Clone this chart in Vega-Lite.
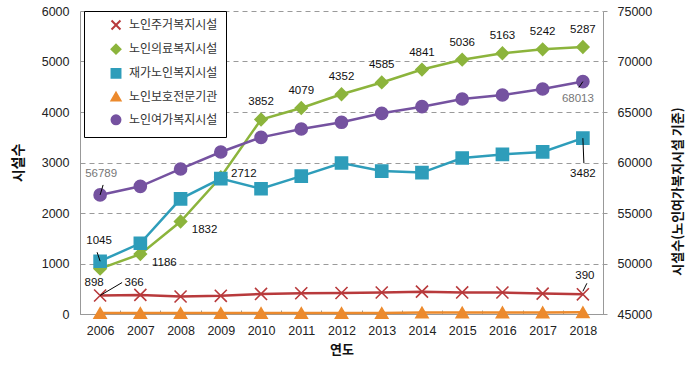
{
  "$schema": "https://vega.github.io/schema/vega-lite/v6.json",
  "width": 523,
  "height": 303,
  "padding": {"left": 11, "top": 5, "right": 5, "bottom": 5},
  "background": "white",
  "config": {
    "view": {"stroke": null},
    "font": "Liberation Sans",
    "axis": {
      "labelFont": "Liberation Sans",
      "labelFontSize": 12.5,
      "labelColor": "#222",
      "titleFont": "Noto Sans CJK KR",
      "titleFontWeight": "bold",
      "titleColor": "#111",
      "domainColor": "#999",
      "tickColor": "#999"
    }
  },
  "data": {
    "values": [
      {"year": "2006", "series": "노인주거복지시설", "value": 366},
      {"year": "2007", "series": "노인주거복지시설", "value": 378},
      {"year": "2008", "series": "노인주거복지시설", "value": 347},
      {"year": "2009", "series": "노인주거복지시설", "value": 360},
      {"year": "2010", "series": "노인주거복지시설", "value": 397},
      {"year": "2011", "series": "노인주거복지시설", "value": 411},
      {"year": "2012", "series": "노인주거복지시설", "value": 416},
      {"year": "2013", "series": "노인주거복지시설", "value": 425},
      {"year": "2014", "series": "노인주거복지시설", "value": 443},
      {"year": "2015", "series": "노인주거복지시설", "value": 427},
      {"year": "2016", "series": "노인주거복지시설", "value": 425},
      {"year": "2017", "series": "노인주거복지시설", "value": 404},
      {"year": "2018", "series": "노인주거복지시설", "value": 390},
      {"year": "2006", "series": "노인의료복지시설", "value": 898},
      {"year": "2007", "series": "노인의료복지시설", "value": 1186},
      {"year": "2008", "series": "노인의료복지시설", "value": 1832},
      {"year": "2009", "series": "노인의료복지시설", "value": 2712},
      {"year": "2010", "series": "노인의료복지시설", "value": 3852},
      {"year": "2011", "series": "노인의료복지시설", "value": 4079},
      {"year": "2012", "series": "노인의료복지시설", "value": 4352},
      {"year": "2013", "series": "노인의료복지시설", "value": 4585},
      {"year": "2014", "series": "노인의료복지시설", "value": 4841},
      {"year": "2015", "series": "노인의료복지시설", "value": 5036},
      {"year": "2016", "series": "노인의료복지시설", "value": 5163},
      {"year": "2017", "series": "노인의료복지시설", "value": 5242},
      {"year": "2018", "series": "노인의료복지시설", "value": 5287},
      {"year": "2006", "series": "재가노인복지시설", "value": 1045},
      {"year": "2007", "series": "재가노인복지시설", "value": 1400},
      {"year": "2008", "series": "재가노인복지시설", "value": 2280},
      {"year": "2009", "series": "재가노인복지시설", "value": 2680},
      {"year": "2010", "series": "재가노인복지시설", "value": 2480},
      {"year": "2011", "series": "재가노인복지시설", "value": 2730},
      {"year": "2012", "series": "재가노인복지시설", "value": 2990},
      {"year": "2013", "series": "재가노인복지시설", "value": 2830},
      {"year": "2014", "series": "재가노인복지시설", "value": 2800},
      {"year": "2015", "series": "재가노인복지시설", "value": 3090},
      {"year": "2016", "series": "재가노인복지시설", "value": 3160},
      {"year": "2017", "series": "재가노인복지시설", "value": 3210},
      {"year": "2018", "series": "재가노인복지시설", "value": 3482},
      {"year": "2006", "series": "노인보호전문기관", "value": 18},
      {"year": "2007", "series": "노인보호전문기관", "value": 19},
      {"year": "2008", "series": "노인보호전문기관", "value": 19},
      {"year": "2009", "series": "노인보호전문기관", "value": 19},
      {"year": "2010", "series": "노인보호전문기관", "value": 19},
      {"year": "2011", "series": "노인보호전문기관", "value": 19},
      {"year": "2012", "series": "노인보호전문기관", "value": 20},
      {"year": "2013", "series": "노인보호전문기관", "value": 20},
      {"year": "2014", "series": "노인보호전문기관", "value": 29},
      {"year": "2015", "series": "노인보호전문기관", "value": 29},
      {"year": "2016", "series": "노인보호전문기관", "value": 31},
      {"year": "2017", "series": "노인보호전문기관", "value": 32},
      {"year": "2018", "series": "노인보호전문기관", "value": 33},
      {"year": "2006", "series": "노인여가복지시설", "value": 56789},
      {"year": "2007", "series": "노인여가복지시설", "value": 57640},
      {"year": "2008", "series": "노인여가복지시설", "value": 59360},
      {"year": "2009", "series": "노인여가복지시설", "value": 61040},
      {"year": "2010", "series": "노인여가복지시설", "value": 62490},
      {"year": "2011", "series": "노인여가복지시설", "value": 63320},
      {"year": "2012", "series": "노인여가복지시설", "value": 63980},
      {"year": "2013", "series": "노인여가복지시설", "value": 64870},
      {"year": "2014", "series": "노인여가복지시설", "value": 65530},
      {"year": "2015", "series": "노인여가복지시설", "value": 66290},
      {"year": "2016", "series": "노인여가복지시설", "value": 66680},
      {"year": "2017", "series": "노인여가복지시설", "value": 67280},
      {"year": "2018", "series": "노인여가복지시설", "value": 68013}
    ]
  },
  "layer": [
    {
      "transform": [{"filter": "datum.series !== '노인여가복지시설'"}],
      "encoding": {
        "x": {
          "field": "year", "type": "ordinal",
          "scale": {"type": "band", "paddingInner": 0, "paddingOuter": 0},
          "axis": {
            "title": "연도", "titleFontSize": 13, "titlePadding": 7,
            "labelAngle": 0, "labelPadding": 14, "tickSize": -4, "tickBand": "extent", "grid": false
          }
        },
        "y": {
          "field": "value", "type": "quantitative",
          "scale": {"domain": [0, 6000]},
          "axis": {
            "title": "시설수", "titleFontSize": 14, "titlePadding": 16, "format": "d",
            "values": [0, 1000, 2000, 3000, 4000, 5000, 6000],
            "grid": true, "gridDash": [5, 4], "gridColor": "#9a9a9a",
            "tickSize": 0, "labelPadding": 11
          }
        }
      },
      "layer": [
        {
          "mark": {"type": "line", "strokeWidth": 2.5},
          "encoding": {
            "color": {"field": "series", "type": "nominal",
              "scale": {"domain": ["노인주거복지시설", "노인의료복지시설", "재가노인복지시설", "노인보호전문기관", "노인여가복지시설"],
                        "range": ["#B83A3C", "#8CB43C", "#2E9DBA", "#EC8A2D", "#7552A0"]},
              "legend": {
                "orient": "none", "legendX": 4, "legendY": 0, "title": null,
                "strokeColor": "#000", "fillColor": "#fff", "padding": 8,
                "symbolSize": 80, "symbolOffset": 18, "labelOffset": 7, "rowPadding": 6.2,
                "labelFont": "Noto Sans CJK KR", "labelFontSize": 12, "labelColor": "#333",
                "labelExpr": "datum.label + '\u3000'",
                "symbolStrokeWidth": 2
              }
            }
          }
        },
        {
          "mark": {"type": "point", "filled": true, "size": 145, "opacity": 1, "strokeWidth": 1.6},
          "encoding": {
            "color": {"field": "series", "type": "nominal",
              "scale": {"domain": ["노인주거복지시설", "노인의료복지시설", "재가노인복지시설", "노인보호전문기관", "노인여가복지시설"],
                        "range": ["#B83A3C", "#8CB43C", "#2E9DBA", "#EC8A2D", "#7552A0"]}},
            "stroke": {"field": "series", "type": "nominal",
              "scale": {"domain": ["노인주거복지시설", "노인의료복지시설", "재가노인복지시설", "노인보호전문기관", "노인여가복지시설"],
                        "range": ["#B83A3C", "#8CB43C", "#2E9DBA", "#EC8A2D", "#7552A0"]}},
            "shape": {"field": "series", "type": "nominal",
              "scale": {"domain": ["노인주거복지시설", "노인의료복지시설", "재가노인복지시설", "노인보호전문기관", "노인여가복지시설"],
                        "range": ["M-1,-1L1,1M-1,1L1,-1", "diamond", "square", "triangle-up", "circle"]}}
          }
        },
        {
          "transform": [{"filter": "datum.series === '노인주거복지시설' && datum.year === '2006'"}],
          "mark": {"type": "rule", "color": "#000", "strokeWidth": 1, "x2Offset": 22, "y2Offset": -13},
          "encoding": {"x2": {"field": "year"}, "y2": {"field": "value"}}
        },
        {
          "transform": [{"filter": "datum.series === '노인주거복지시설' && datum.year === '2018'"}],
          "mark": {"type": "rule", "color": "#000", "strokeWidth": 1, "xOffset": 0, "yOffset": -3, "x2Offset": 4, "y2Offset": -11},
          "encoding": {"x2": {"field": "year"}, "y2": {"field": "value"}}
        },
        {
          "transform": [{"filter": "datum.series === '재가노인복지시설' && datum.year === '2018'"}],
          "mark": {"type": "rule", "color": "#000", "strokeWidth": 1, "x2Offset": 1, "y2Offset": 25},
          "encoding": {"x2": {"field": "year"}, "y2": {"field": "value"}}
        },
        {
          "transform": [{"filter": "datum.series === '재가노인복지시설' && datum.year === '2006'"}],
          "mark": {"type": "rule", "color": "#000", "strokeWidth": 1, "x2Offset": -3, "y2Offset": -9},
          "encoding": {"x2": {"field": "year"}, "y2": {"field": "value"}}
        },
        {
          "transform": [{"filter": "datum.series === '노인의료복지시설' && +datum.year >= 2010"}],
          "mark": {"type": "text", "dy": -17, "fontSize": 11.5, "color": "#111"},
          "encoding": {"text": {"field": "value", "type": "quantitative", "format": "d"}}
        },
        {
          "transform": [{"filter": "datum.series === '노인의료복지시설' && datum.year === '2006'"}],
          "mark": {"type": "text", "dx": -6, "dy": 14, "fontSize": 11.5, "color": "#111"},
          "encoding": {"text": {"field": "value", "type": "quantitative", "format": "d"}}
        },
        {
          "transform": [{"filter": "datum.series === '노인의료복지시설' && (datum.year === '2007' || datum.year === '2008')"}],
          "mark": {"type": "text", "dx": 24, "dy": 9, "fontSize": 11.5, "color": "#111"},
          "encoding": {"text": {"field": "value", "type": "quantitative", "format": "d"}}
        },
        {
          "transform": [{"filter": "datum.series === '노인의료복지시설' && datum.year === '2009'"}],
          "mark": {"type": "text", "dx": 23, "dy": -3, "fontSize": 11.5, "color": "#111"},
          "encoding": {"text": {"field": "value", "type": "quantitative", "format": "d"}}
        },
        {
          "transform": [{"filter": "datum.series === '재가노인복지시설' && datum.year === '2006'"}],
          "mark": {"type": "text", "dx": -1, "dy": -20, "fontSize": 11.5, "color": "#111"},
          "encoding": {"text": {"field": "value", "type": "quantitative", "format": "d"}}
        },
        {
          "transform": [{"filter": "datum.series === '재가노인복지시설' && datum.year === '2018'"}],
          "mark": {"type": "text", "dx": 0, "dy": 36, "fontSize": 11.5, "color": "#111"},
          "encoding": {"text": {"field": "value", "type": "quantitative", "format": "d"}}
        },
        {
          "transform": [{"filter": "datum.series === '노인주거복지시설' && datum.year === '2006'"}],
          "mark": {"type": "text", "dx": 34, "dy": -13, "fontSize": 11.5, "color": "#111"},
          "encoding": {"text": {"field": "value", "type": "quantitative", "format": "d"}}
        },
        {
          "transform": [{"filter": "datum.series === '노인주거복지시설' && datum.year === '2018'"}],
          "mark": {"type": "text", "dx": 2, "dy": -18, "fontSize": 11.5, "color": "#111"},
          "encoding": {"text": {"field": "value", "type": "quantitative", "format": "d"}}
        }
      ]
    },
    {
      "transform": [{"filter": "datum.series === '노인여가복지시설'"}],
      "encoding": {
        "x": {"field": "year", "type": "ordinal", "scale": {"type": "band", "paddingInner": 0, "paddingOuter": 0}},
        "y": {
          "field": "value", "type": "quantitative",
          "scale": {"domain": [45000, 75000]},
          "axis": {
            "orient": "right", "title": "시설수(노인여가복지시설 기준)", "titleFontSize": 13, "format": "d",
            "titleAngle": 270, "titleAlign": "center", "titleBaseline": "middle", "titleX": 74, "titleY": 180,
            "values": [45000, 50000, 55000, 60000, 65000, 70000, 75000],
            "grid": false, "tickSize": 4, "labelPadding": 10
          }
        }
      },
      "layer": [
        {
          "mark": {"type": "line", "strokeWidth": 2.5},
          "encoding": {
            "color": {"field": "series", "type": "nominal",
              "scale": {"domain": ["노인주거복지시설", "노인의료복지시설", "재가노인복지시설", "노인보호전문기관", "노인여가복지시설"],
                        "range": ["#B83A3C", "#8CB43C", "#2E9DBA", "#EC8A2D", "#7552A0"]}}
          }
        },
        {
          "mark": {"type": "point", "filled": true, "size": 145, "opacity": 1, "strokeWidth": 1.6},
          "encoding": {
            "color": {"field": "series", "type": "nominal",
              "scale": {"domain": ["노인주거복지시설", "노인의료복지시설", "재가노인복지시설", "노인보호전문기관", "노인여가복지시설"],
                        "range": ["#B83A3C", "#8CB43C", "#2E9DBA", "#EC8A2D", "#7552A0"]}},
            "stroke": {"field": "series", "type": "nominal",
              "scale": {"domain": ["노인주거복지시설", "노인의료복지시설", "재가노인복지시설", "노인보호전문기관", "노인여가복지시설"],
                        "range": ["#B83A3C", "#8CB43C", "#2E9DBA", "#EC8A2D", "#7552A0"]}},
            "shape": {"field": "series", "type": "nominal",
              "scale": {"domain": ["노인주거복지시설", "노인의료복지시설", "재가노인복지시설", "노인보호전문기관", "노인여가복지시설"],
                        "range": ["M-1,-1L1,1M-1,1L1,-1", "diamond", "square", "triangle-up", "circle"]}}
          }
        },
        {
          "transform": [{"filter": "datum.year === '2006'"}],
          "mark": {"type": "rule", "color": "#000", "strokeWidth": 1, "x2Offset": 3, "y2Offset": -10},
          "encoding": {"x2": {"field": "year"}, "y2": {"field": "value"}}
        },
        {
          "transform": [{"filter": "datum.year === '2018'"}],
          "mark": {"type": "rule", "color": "#000", "strokeWidth": 1, "x2Offset": -4, "y2Offset": 6},
          "encoding": {"x2": {"field": "year"}, "y2": {"field": "value"}}
        },
        {
          "transform": [{"filter": "datum.year === '2006'"}],
          "mark": {"type": "text", "dx": 1, "dy": -21, "fontSize": 11.5, "color": "#777"},
          "encoding": {"text": {"field": "value", "type": "quantitative", "format": "d"}}
        },
        {
          "transform": [{"filter": "datum.year === '2018'"}],
          "mark": {"type": "text", "dx": -5, "dy": 17, "fontSize": 11.5, "color": "#777"},
          "encoding": {"text": {"field": "value", "type": "quantitative", "format": "d"}}
        }
      ]
    }
  ],
  "resolve": {"scale": {"y": "independent"}}
}
